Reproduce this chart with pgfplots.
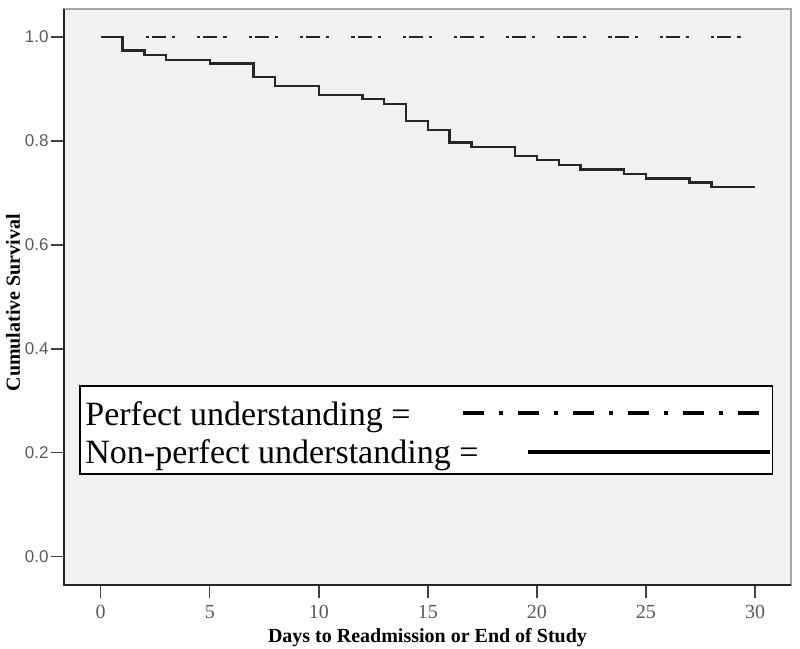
\documentclass[border=0pt]{standalone}
\usepackage{pgfplots}
\pgfplotsset{compat=1.18}
\usepackage{fontspec}
\setmainfont{Liberation Serif}
\newfontfamily\sansf{Liberation Sans}
\definecolor{bgc}{RGB}{240,242,240}
\definecolor{tlc}{RGB}{90,90,90}
\begin{document}
\begin{tikzpicture}
\begin{axis}[name=ax, scale only axis, width=363.5pt, height=288pt,
  xmin=-1.683, xmax=31.65, ymin=-0.0545, ymax=1.054,
  clip=false,
  axis background/.style={fill=bgc},
  axis line style={draw=gray!70, line width=0.75pt},
  xtick={0,5,...,30}, ytick={0,0.2,0.4,0.6,0.8,1.0},
  xtick pos=bottom, ytick pos=left, tick align=outside,
  major tick length=6.5pt,
  tick style={black!75, line width=0.7pt},
  /pgf/number format/assume math mode=true,
  xticklabel style={font=\fontsize{10}{12}\selectfont, text=tlc},
  yticklabel style={font=\sansf\fontsize{8.5}{10}\selectfont, text=tlc, inner xsep=1pt},
  y tick label style={/pgf/number format/fixed, /pgf/number format/fixed zerofill, /pgf/number format/precision=1},
  xlabel={Days to Readmission or End of Study},
  ylabel={Cumulative Survival},
  xlabel style={font=\bfseries\fontsize{10}{12}\selectfont, at={(axis description cs:0.5,0)}, anchor=base, yshift=-28.5pt},
  ylabel style={font=\bfseries\fontsize{10}{12}\selectfont, at={(axis description cs:-0.0702,0.49)}, anchor=center},
]
\addplot[const plot, black!85, line width=1.2pt] coordinates {
(0,1) (1,0.974) (2,0.965) (3,0.956) (5,0.949) (7,0.923) (8,0.906) (10,0.889)
(12,0.881) (13,0.871) (14,0.838) (15,0.821) (16,0.797) (17,0.788) (19,0.771)
(20,0.763) (21,0.754) (22,0.745) (24,0.737) (25,0.728) (27,0.720) (28,0.711) (30,0.711)};
\addplot[black!85, line width=1.3pt, dash pattern=on 1.6pt off 1.5pt on 7pt off 3pt on 1.6pt off 11pt, dash phase=3.2pt] coordinates {(0,1) (30,1)};
\draw[black!85, line width=0.75pt] (rel axis cs:0,1) -- (rel axis cs:0,0) -- (rel axis cs:1,0);
% legend
\draw[fill=white, line width=0.6pt] (axis cs:-0.949,0.1592) rectangle (axis cs:30.82,0.3286);
\node[anchor=base west, inner sep=0pt, font=\fontsize{17}{20}\selectfont] at (axis cs:-0.72,0.2516) {Perfect understanding =};
\node[anchor=base west, inner sep=0pt, font=\fontsize{17}{20}\selectfont] at (axis cs:-0.72,0.1785) {Non-perfect understanding =};
\draw[black, line width=2.3pt, dash pattern=on 10.5pt off 7.3pt on 2.4pt off 7.3pt] (axis cs:16.61,0.2767) -- (axis cs:30.23,0.2767);
\draw[black, line width=2.3pt] (axis cs:19.59,0.2016) -- (axis cs:30.69,0.2016);
\end{axis}
\pgfresetboundingbox
\useasboundingbox ([shift={(-32pt,-32pt)}]ax.south west) rectangle ([shift={(4.5pt,4.5pt)}]ax.north east);
\end{tikzpicture}
\end{document}
